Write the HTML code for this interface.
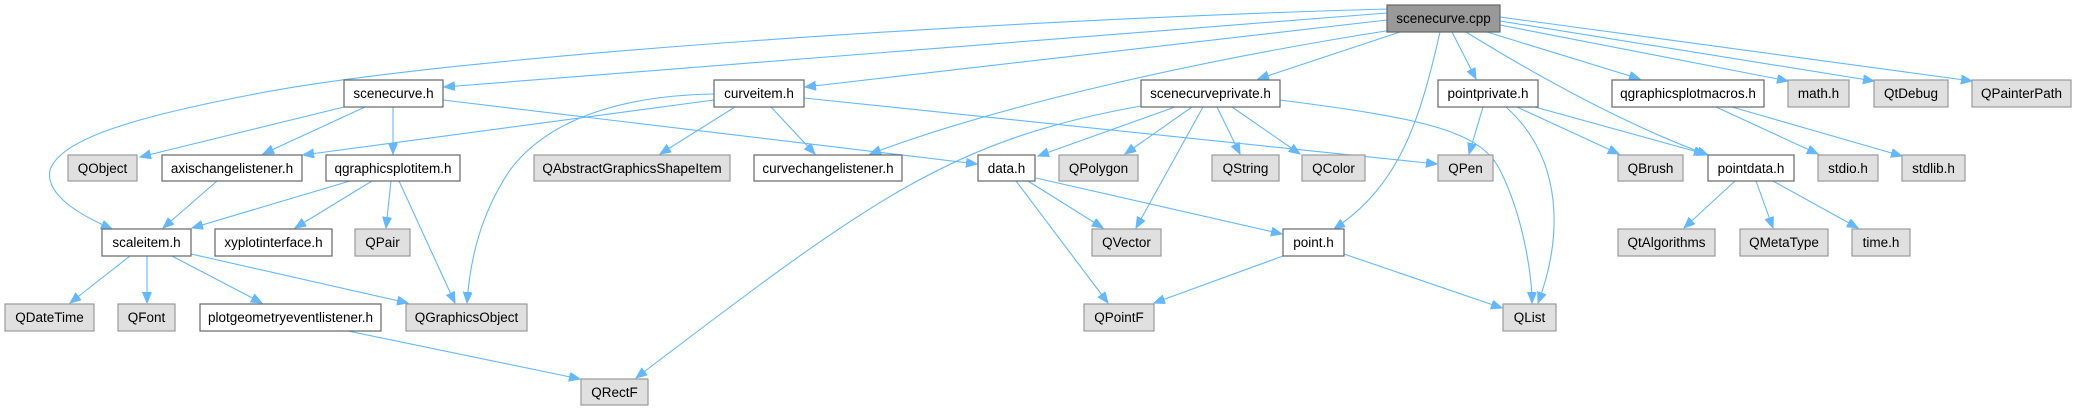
<!DOCTYPE html>
<html><head><meta charset="utf-8"><style>
html,body{margin:0;padding:0;background:#fff;}
svg{display:block;}
text{font-family:"Liberation Sans",sans-serif;font-size:13.5px;fill:#000;text-anchor:middle;}
.w{fill:#fff;stroke:#666;stroke-width:1.2;}
.g{fill:#e0e0e0;stroke:#999;stroke-width:1.2;}
.c{fill:#999;stroke:#666;stroke-width:1.2;}
path.e{fill:none;stroke:#63b8ff;stroke-width:1.1;marker-end:url(#a);}
</style></head><body>
<svg width="2077" height="411" viewBox="0 0 2077 411" xmlns="http://www.w3.org/2000/svg">
<defs><marker id="a" markerUnits="userSpaceOnUse" markerWidth="12" markerHeight="10" refX="11" refY="4.5" orient="auto"><path d="M0,0 L11,4.5 L0,9 z" fill="#63b8ff" stroke="#63b8ff"/></marker></defs>
<path class="e" d="M1387,9 C1000,20 450,55 250,95 C130,118 60,140 50,170 C45,195 80,215 112,229"/>
<path class="e" d="M1387,13 L444,87"/>
<path class="e" d="M1387,20 L805,87"/>
<path class="e" d="M1392,30 C1200,60 1000,105 870,154"/>
<path class="e" d="M1400,32 L1258,79"/>
<path class="e" d="M1440,32 C1420,120 1400,185 1334,229"/>
<path class="e" d="M1452,32 L1476,79"/>
<path class="e" d="M1466,32 C1560,90 1640,130 1708,155"/>
<path class="e" d="M1487,32 L1640,79"/>
<path class="e" d="M1500,25 L1788,81"/>
<path class="e" d="M1500,21 L1874,81"/>
<path class="e" d="M1500,17 L1972,81"/>
<path class="e" d="M344,107 L140,157"/>
<path class="e" d="M365,107 L263,154"/>
<path class="e" d="M393,107 L393,154"/>
<path class="e" d="M443,100 L977,164"/>
<path class="e" d="M714,100 L303,155"/>
<path class="e" d="M714,94 C600,96 540,130 510,170 C480,215 470,260 467,303"/>
<path class="e" d="M735,107 L660,154"/>
<path class="e" d="M771,107 L815,154"/>
<path class="e" d="M804,98 L1437,164"/>
<path class="e" d="M1141,106 C950,140 870,200 636,378"/>
<path class="e" d="M1175,107 L1038,156"/>
<path class="e" d="M1192,107 L1125,154"/>
<path class="e" d="M1203,107 L1136,228"/>
<path class="e" d="M1217,107 L1240,154"/>
<path class="e" d="M1232,107 L1300,154"/>
<path class="e" d="M1280,100 C1420,118 1480,130 1500,170 C1525,220 1532,280 1532,303"/>
<path class="e" d="M1506,107 C1565,160 1562,240 1538,303"/>
<path class="e" d="M1483,107 L1469,154"/>
<path class="e" d="M1517,107 L1619,154"/>
<path class="e" d="M1535,107 L1705,154"/>
<path class="e" d="M1716,107 L1818,154"/>
<path class="e" d="M1732,107 L1902,156"/>
<path class="e" d="M1735,181 L1684,228"/>
<path class="e" d="M1756,181 L1773,228"/>
<path class="e" d="M1773,181 L1858,228"/>
<path class="e" d="M217,181 L163,228"/>
<path class="e" d="M350,181 L192,228"/>
<path class="e" d="M372,181 L295,228"/>
<path class="e" d="M391,181 L386,228"/>
<path class="e" d="M399,181 L455,303"/>
<path class="e" d="M130,256 L70,303"/>
<path class="e" d="M147,256 L147,303"/>
<path class="e" d="M172,256 L262,303"/>
<path class="e" d="M191,254 L408,303"/>
<path class="e" d="M348,331 L580,379"/>
<path class="e" d="M1028,181 L1103,228"/>
<path class="e" d="M1016,181 L1108,303"/>
<path class="e" d="M1036,178 L1282,234"/>
<path class="e" d="M1283,256 L1154,303"/>
<path class="e" d="M1344,254 L1502,308"/>
<g>
<rect class="c" x="1387" y="5" width="113" height="27"/><text x="1443.5" y="23">scenecurve.cpp</text>
<rect class="w" x="344" y="80" width="99" height="27"/><text x="393.5" y="98">scenecurve.h</text>
<rect class="w" x="714" y="80" width="90" height="27"/><text x="759" y="98">curveitem.h</text>
<rect class="w" x="1141" y="80" width="139" height="27"/><text x="1210.5" y="98">scenecurveprivate.h</text>
<rect class="w" x="1438" y="80" width="100" height="27"/><text x="1488" y="98">pointprivate.h</text>
<rect class="w" x="1612" y="80" width="152" height="27"/><text x="1688" y="98">qgraphicsplotmacros.h</text>
<rect class="g" x="1788" y="80" width="61" height="27"/><text x="1818.5" y="98">math.h</text>
<rect class="g" x="1874" y="80" width="74" height="27"/><text x="1911" y="98">QtDebug</text>
<rect class="g" x="1972" y="80" width="99" height="27"/><text x="2021.5" y="98">QPainterPath</text>

<rect class="g" x="68" y="155" width="69" height="26"/><text x="102.5" y="173">QObject</text>
<rect class="w" x="162" y="155" width="140" height="26"/><text x="232" y="173">axischangelistener.h</text>
<rect class="w" x="326" y="155" width="134" height="26"/><text x="393" y="173">qgraphicsplotitem.h</text>
<rect class="g" x="534" y="155" width="196" height="26"/><text x="632" y="173">QAbstractGraphicsShapeItem</text>
<rect class="w" x="754" y="155" width="148" height="26"/><text x="828" y="173">curvechangelistener.h</text>
<rect class="w" x="978" y="155" width="57" height="26"/><text x="1006.5" y="173">data.h</text>
<rect class="g" x="1059" y="155" width="79" height="26"/><text x="1098.5" y="173">QPolygon</text>
<rect class="g" x="1212" y="155" width="67" height="26"/><text x="1245.5" y="173">QString</text>
<rect class="g" x="1302" y="155" width="63" height="26"/><text x="1333.5" y="173">QColor</text>
<rect class="g" x="1438" y="155" width="55" height="26"/><text x="1465.5" y="173">QPen</text>
<rect class="g" x="1618" y="155" width="65" height="26"/><text x="1650.5" y="173">QBrush</text>
<rect class="w" x="1708" y="155" width="86" height="26"/><text x="1751" y="173">pointdata.h</text>
<rect class="g" x="1818" y="155" width="60" height="26"/><text x="1848" y="173">stdio.h</text>
<rect class="g" x="1902" y="155" width="63" height="26"/><text x="1933.5" y="173">stdlib.h</text>

<rect class="w" x="102" y="229" width="89" height="27"/><text x="146.5" y="247">scaleitem.h</text>
<rect class="w" x="215" y="229" width="117" height="27"/><text x="273.5" y="247">xyplotinterface.h</text>
<rect class="g" x="355" y="229" width="55" height="27"/><text x="382.5" y="247">QPair</text>
<rect class="g" x="1092" y="229" width="69" height="27"/><text x="1126.5" y="247">QVector</text>
<rect class="w" x="1283" y="229" width="61" height="27"/><text x="1313.5" y="247">point.h</text>
<rect class="g" x="1618" y="229" width="97" height="27"/><text x="1666.5" y="247">QtAlgorithms</text>
<rect class="g" x="1740" y="229" width="88" height="27"/><text x="1784" y="247">QMetaType</text>
<rect class="g" x="1852" y="229" width="58" height="27"/><text x="1881" y="247">time.h</text>

<rect class="g" x="5" y="304" width="89" height="27"/><text x="49.5" y="322">QDateTime</text>
<rect class="g" x="118" y="304" width="57" height="27"/><text x="146.5" y="322">QFont</text>
<rect class="w" x="200" y="304" width="181" height="27"/><text x="290.5" y="322">plotgeometryeventlistener.h</text>
<rect class="g" x="406" y="304" width="121" height="27"/><text x="466.5" y="322">QGraphicsObject</text>
<rect class="g" x="1084" y="304" width="70" height="27"/><text x="1119" y="322">QPointF</text>
<rect class="g" x="1503" y="304" width="53" height="27"/><text x="1529.5" y="322">QList</text>

<rect class="g" x="581" y="379" width="67" height="26"/><text x="614.5" y="397">QRectF</text>
</g>
</svg>
</body></html>
